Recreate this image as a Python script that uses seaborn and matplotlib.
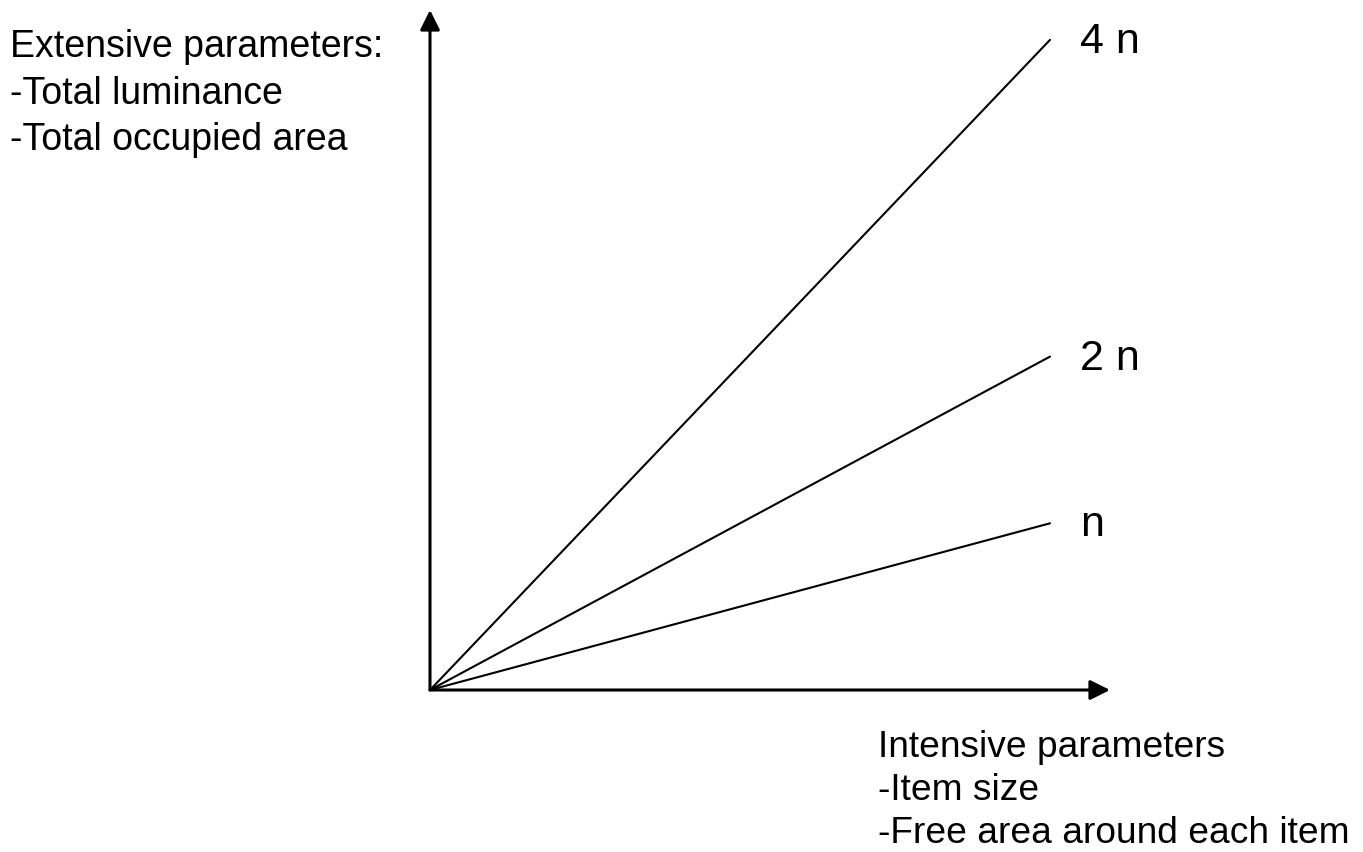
import pandas as pd
import matplotlib
matplotlib.use("Agg")
import matplotlib.pyplot as plt
import seaborn as sns

# data
series_labels = ["n", "2 n", "4 n"]
x_points = [0.0, 1.0]
end_values = [1.0, 2.0, 3.9]

extensive_text = ["Extensive parameters:", "-Total luminance", "-Total occupied area"]
intensive_text = ["Intensive parameters", "-Item size", "-Free area around each item"]

rows = []
for lab, v in zip(series_labels, end_values):
    for x in x_points:
        rows.append({"series": lab, "x": x, "y": x * v})
df = pd.DataFrame(rows)

sns.set_style("white")
plt.rcParams["font.family"] = ["Liberation Sans", "DejaVu Sans"]
plt.rcParams["text.color"] = "black"

W, H = 1363, 852
fig = plt.figure(figsize=(W / 100, H / 100), dpi=100)
ax = fig.add_axes([0, 0, 1, 1])

# pixel scale: origin at (430, 690), 620 px per x unit, 166.7 px per y unit
ox, oy, sx, sy = 430, 690, 620.0, 166.7
ax.set_xlim(-ox / sx, (W - ox) / sx)
ax.set_ylim(-(H - oy) / sy, oy / sy)
ax.axis("off")

sns.lineplot(data=df, x="x", y="y", hue="series", units="series", estimator=None,
             palette=["black"] * 3, linewidth=1.5, legend=False, ax=ax)

# axes arrows
arrow = dict(arrowstyle="-|>,head_length=0.6,head_width=0.3", mutation_scale=20,
             color="black", lw=2.2, shrinkA=0, shrinkB=0)
ax.annotate("", xy=((1110 - ox) / sx, 0), xytext=(0, 0), arrowprops=arrow)
ax.annotate("", xy=(0, (oy - 10) / sy), xytext=(0, 0), arrowprops=arrow)

# series labels
for lab, v in zip(series_labels, end_values):
    ax.annotate(lab, xy=(x_points[-1], v), xytext=(21.6, -9.4), textcoords="offset points",
                fontsize=31, va="baseline", ha="left", color="black")

for i, t in enumerate(extensive_text):
    fig.text(10 / W, 1 - (57 + 46.5 * i) / H, t, fontsize=27, va="baseline", ha="left",
             color="black")
for i, t in enumerate(intensive_text):
    fig.text(878 / W, 1 - (757 + 43 * i) / H, t, fontsize=26.7, va="baseline", ha="left",
             color="black")

fig.savefig("out.png", dpi=100, facecolor="white")
